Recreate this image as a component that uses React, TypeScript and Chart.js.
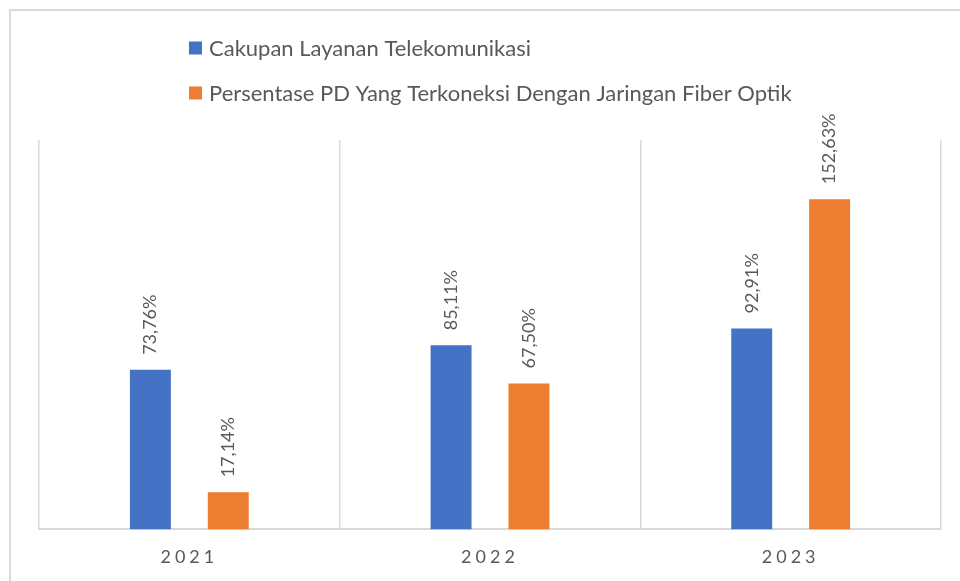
import React, { useEffect, useRef } from "react";
import { Chart, registerables } from "chart.js";

Chart.register(...registerables);

const categories = ["2021", "2022", "2023"];
const seriesNames = [
  "Cakupan Layanan Telekomunikasi",
  "Persentase PD Yang Terkoneksi Dengan Jaringan Fiber Optik",
];
const cakupanValues = [73.76, 85.11, 92.91];
const fiberValues = [17.14, 67.5, 152.63];
const seriesColors = ["#4472C4", "#ED7D31"];

const TEXT_COLOR = "#595959";
const GRID_COLOR = "#d9d9d9";
const FONT = "Lato";

const fmt = (v: number) => v.toFixed(2).replace(".", ",") + "%";

const framePlugin = {
  id: "frame",
  beforeDraw(chart: any) {
    const ctx = chart.ctx;
    ctx.save();
    ctx.fillStyle = "#ffffff";
    ctx.fillRect(0, 0, chart.width, chart.height);
    ctx.strokeStyle = GRID_COLOR;
    ctx.lineWidth = 2;
    ctx.strokeRect(10, 10, chart.width + 20, chart.height + 20);
    ctx.restore();
    ctx.letterSpacing = "4px";
  },
  beforeDatasetsDraw(chart: any) {
    chart.ctx.letterSpacing = "0px";
  },
};

const dataLabelPlugin = {
  id: "dataLabels",
  afterDatasetsDraw(chart: any) {
    const ctx = chart.ctx;
    ctx.save();
    ctx.letterSpacing = "0px";
    ctx.font = `18px ${FONT}`;
    ctx.fillStyle = TEXT_COLOR;
    ctx.textAlign = "left";
    ctx.textBaseline = "middle";
    chart.data.datasets.forEach((ds: any, di: number) => {
      const meta = chart.getDatasetMeta(di);
      meta.data.forEach((el: any, i: number) => {
        ctx.save();
        ctx.translate(el.x, el.y - 15);
        ctx.rotate(-Math.PI / 2);
        ctx.fillText(fmt(ds.data[i]), 0, 0);
        ctx.restore();
      });
    });
    ctx.restore();
  },
};

const legendPlugin = {
  id: "customLegend",
  afterDraw(chart: any) {
    const ctx = chart.ctx;
    ctx.save();
    ctx.letterSpacing = "0px";
    ctx.font = `22px ${FONT}`;
    const items = chart.data.datasets;
    const widths = items.map((d: any) => ctx.measureText(d.label).width);
    const box = 13;
    const gap = 7;
    const blockW = box + gap + Math.max(...widths);
    const cx = (chart.chartArea.left + chart.chartArea.right) / 2;
    const x0 = Math.round(cx - blockW / 2);
    items.forEach((d: any, i: number) => {
      const cy = 48 + i * 45;
      ctx.fillStyle = d.backgroundColor;
      ctx.fillRect(x0, cy - box / 2, box, box);
      ctx.fillStyle = TEXT_COLOR;
      ctx.textAlign = "left";
      ctx.textBaseline = "middle";
      ctx.fillText(d.label, x0 + box + gap, cy + 1);
    });
    ctx.restore();
  },
};

export default function App() {
  const canvasRef = useRef<HTMLCanvasElement | null>(null);

  useEffect(() => {
    if (!canvasRef.current) return;
    const chart = new Chart(canvasRef.current, {
      type: "bar",
      data: {
        labels: categories,
        datasets: [
          {
            label: seriesNames[0],
            data: cakupanValues,
            backgroundColor: seriesColors[0],
            categoryPercentage: 0.518,
            barPercentage: 0.526,
          },
          {
            label: seriesNames[1],
            data: fiberValues,
            backgroundColor: seriesColors[1],
            categoryPercentage: 0.518,
            barPercentage: 0.526,
          },
        ],
      },
      options: {
        responsive: false,
        animation: false,
        layout: { padding: { left: 39, right: 19, top: 140, bottom: -4 } },
        plugins: {
          legend: { display: false },
          tooltip: { enabled: false },
        },
        scales: {
          x: {
            grid: {
              color: GRID_COLOR,
              lineWidth: 1.5,
              drawTicks: false,
              offset: true,
            },
            border: { color: GRID_COLOR, width: 2 },
            ticks: {
              color: TEXT_COLOR,
              font: { family: FONT, size: 18 },
              padding: 17,
            },
          },
          y: {
            display: false,
            min: 0,
            max: 180,
          },
        },
      },
      plugins: [framePlugin, dataLabelPlugin, legendPlugin],
    });
    return () => chart.destroy();
  }, []);

  return (
    <div style={{ position: "absolute", left: 0, top: 0, width: 960, height: 581 }}>
      <canvas ref={canvasRef} width={960} height={581} />
    </div>
  );
}
